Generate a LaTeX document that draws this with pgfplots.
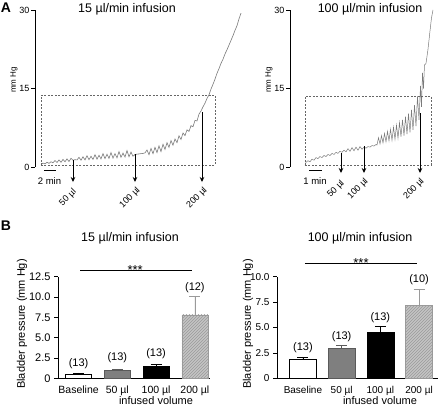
\documentclass[border=0pt]{standalone}
\usepackage{fontspec}
\setmainfont{Liberation Sans}
\usepackage{pgfplots}
\pgfplotsset{compat=1.18}
\usetikzlibrary{arrows.meta,patterns}
\definecolor{trace}{HTML}{7A7A7A}
\definecolor{bargray}{HTML}{7F7F7F}
\definecolor{baredge}{HTML}{5A5A5A}
\definecolor{barlight}{HTML}{C4C4C4}
\definecolor{hatch}{HTML}{9A9A9A}
\newcommand{\fs}[1]{\fontsize{#1}{#1}\selectfont}
\begin{document}
\begin{tikzpicture}
\useasboundingbox (0pt,0pt) rectangle (440pt,405pt);
\pgfplotsset{
  toppanel/.style={
    scale only axis, clip=false,
    axis x line=none, axis y line*=left, xtick=\empty,
    ymin=0, ymax=30, ytick={0,15,30},
    height=157pt, anchor=south west,
    tick align=outside, major tick length=4pt,
    y axis line style={line width=0.6pt},
    ytick style={black, line width=0.6pt},
    yticklabel style={font=\fs{9}, inner sep=1.5pt},
    /pgf/number format/assume math mode=true,
  },
  barpanel/.style={
    scale only axis, clip=false,
    axis x line*=bottom, axis y line*=left,
    ymin=0, height=101.6pt, anchor=south west,
    xtick={0,1,2,3}, xticklabels={Baseline,50 µl,100 µl,200 µl},
    xtick style={draw=none},
    tick align=outside, major tick length=4pt,
    axis line style={line width=0.6pt},
    ytick style={black, line width=0.6pt},
    /pgf/number format/assume math mode=true,
  },
  errs/.style={error bars/.cd, y dir=plus, y explicit,
    error bar style={line width=0.7pt, #1},
    error mark options={rotate=90, mark size=5.5pt, line width=0.7pt, #1}},
}
% ---------------- Panel A left ----------------
\begin{axis}[toppanel, at={(35pt,238pt)}, width=210pt, xmin=35, xmax=245]
\addplot[trace, line width=0.6pt] table {
x y
41 0.5
43 0.75
45 0.6
47 0.9
49 0.7
51 1.0
53 0.8
55 1.25
57 0.85
59 1.35
61 0.9
63 1.45
65 1.0
67 1.55
69 1.05
71 1.65
73 1.3
75 1.4
77 1.35
79 1.85
81 1.3
83 1.95
85 1.35
87 2.15
89 1.4
91 2.05
93 1.45
95 2.35
97 1.5
99 2.25
101 1.55
103 2.55
105 1.6
107 2.45
109 1.65
111 2.75
113 1.7
115 2.55
117 1.75
119 2.95
121 1.85
123 2.65
125 1.9
127 3.15
129 1.95
131 2.85
133 2.05
135 2.4
137 2.45
139 2.5
141 2.55
143 2.6
145 2.7
147 3.25
149 2.35
151 3.55
153 2.55
155 3.75
157 2.75
159 4.05
161 2.95
163 4.35
165 3.35
167 4.65
169 3.75
171 5.05
173 4.15
175 5.35
177 4.65
179 5.95
181 5.25
183 6.5
185 6.0
187 7.1
189 6.8
191 7.9
193 7.7
195 8.9
197 8.8
199 10.1
201 10.7
203 11.5
205 12.2
207 13.1
209 13.8
211 14.9
213 15.8
215 16.8
217 17.9
219 18.8
221 19.8
223 20.6
225 21.6
227 22.4
229 23.3
231 24.2
233 25.1
235 26.1
237 27.0
239 28.3
241 29.4
};
\draw[dash pattern=on 2pt off 1.5pt, line width=0.5pt, black!60] (axis cs:41,0.38) rectangle (axis cs:215,13.76);
\draw[line width=0.8pt] (axis cs:44,-0.57) -- (axis cs:56,-0.57);
\node[font=\fs{9.5}] at (axis cs:49.5,-2.6) {2 min};
\draw[line width=0.9pt,-{Stealth[length=5pt,width=4.5pt]}] (axis cs:73,1.34) -- (axis cs:73,-2.87);
\draw[line width=0.9pt,-{Stealth[length=5pt,width=4.5pt]}] (axis cs:135,2.48) -- (axis cs:135,-2.87);
\draw[line width=0.9pt,-{Stealth[length=5pt,width=4.5pt]}] (axis cs:202,10.5) -- (axis cs:202,-2.87);
\node[rotate=45, font=\fs{9}, inner sep=0pt] at (axis cs:68,-5.9) {50 µl};
\node[rotate=45, font=\fs{9}, inner sep=0pt] at (axis cs:130,-5.9) {100 µl};
\node[rotate=45, font=\fs{9}, inner sep=0pt] at (axis cs:197,-5.9) {200 µl};
\end{axis}
% ---------------- Panel A right ----------------
\begin{axis}[toppanel, at={(290pt,238pt)}, width=150pt, xmin=290, xmax=440]
\addplot[trace, line width=0.5pt] table {
x y
305 0.3
306 0.9
308 1.2
310 1.0
312 1.5
314 1.3
316 1.8
318 1.6
320 2.0
322 1.8
324 2.2
326 2.0
328 2.4
330 2.2
332 2.6
334 2.4
336 2.8
338 2.6
340 3.0
342 2.8
344 3.2
346 2.9
348 3.5
350 3.0
352 3.7
354 3.1
356 3.8
358 3.2
360 3.9
362 3.4
364 3.8
366 3.6
368 3.9
370 3.8
372 4.1
374 4.0
376 4.3
377 4.2
378.5 5.6
380 4.4
381.5 6.0
383 4.6
384.5 6.4
386 4.8
387.5 6.8
389 5.0
390.5 7.2
392 5.1
393.5 7.6
395 5.3
396.5 8.0
398 5.5
399.5 8.5
401 5.8
402.5 9.0
404 6.0
405.5 9.6
407 6.3
408.5 10.2
410 6.6
411.5 10.9
413 7.1
414.5 11.8
416 7.8
417.5 13.5
419 9.0
420.5 15.5
421.5 11.5
422.5 18.0
423.5 15.0
424.5 19.5
426 19.8
428 22.5
430 26.0
431.5 28.5
433 30.0
};
\draw[dash pattern=on 2pt off 1.5pt, line width=0.5pt, black!60] (axis cs:305,0.38) rectangle (axis cs:431,13.57);
\draw[line width=0.8pt] (axis cs:309,-0.57) -- (axis cs:322,-0.57);
\node[font=\fs{9.5}] at (axis cs:315,-2.6) {1 min};
\draw[line width=0.9pt,-{Stealth[length=5pt,width=4.5pt]}] (axis cs:341,2.67) -- (axis cs:341,-1.15);
\draw[line width=0.9pt,-{Stealth[length=5pt,width=4.5pt]}] (axis cs:364,4.0) -- (axis cs:364,-1.15);
\draw[line width=0.9pt,-{Stealth[length=5pt,width=4.5pt]}] (axis cs:420,10.3) -- (axis cs:420,-1.15);
\node[rotate=45, font=\fs{9}, inner sep=0pt] at (axis cs:336,-4.2) {50 µl};
\node[rotate=45, font=\fs{9}, inner sep=0pt] at (axis cs:358,-4.2) {100 µl};
\node[rotate=45, font=\fs{9}, inner sep=0pt] at (axis cs:414,-4.2) {200 µl};
\end{axis}
% ---------------- Panel B left ----------------
\begin{axis}[barpanel, at={(58pt,26.7pt)}, width=152pt, xmin=-0.53, xmax=3.39,
  ymax=12.5, ytick={0,2.5,5,7.5,10,12.5}, yticklabels={0,2.5,5.0,7.5,10.0,12.5},
  yticklabel style={font=\fs{11}}, xticklabel style={font=\fs{10.5}}]
\addplot[ybar, bar width=26pt, bar shift=0pt, fill=white, draw=black, line width=0.6pt, errs=black]
  coordinates {(0,0.55) +- (0,0.12)};
\addplot[ybar, bar width=26pt, bar shift=0pt, fill=bargray, draw=baredge, line width=0.6pt, errs=baredge]
  coordinates {(1,0.95) +- (0,0.14)};
\addplot[ybar, bar width=26pt, bar shift=0pt, fill=black, draw=black, line width=0.6pt, errs=black]
  coordinates {(2,1.5) +- (0,0.2)};
\addplot[ybar, bar width=26pt, bar shift=0pt, fill=barlight, draw=hatch, line width=0.6pt,
  postaction={pattern=north east lines, pattern color=hatch}, errs=hatch]
  coordinates {(3,7.8) +- (0,2.3)};
\draw[line width=0.8pt] (axis cs:0.04,13.25) -- (axis cs:2.93,13.25);
\node[font=\fs{13}, anchor=base, inner sep=0pt] at (axis cs:1.46,12.75) {***};
\node[font=\fs{11}] at (axis cs:0,1.78) {(13)};
\node[font=\fs{11}] at (axis cs:1,2.48) {(13)};
\node[font=\fs{11}] at (axis cs:2,3.02) {(13)};
\node[font=\fs{11}] at (axis cs:3,11.1) {(12)};
\end{axis}
% ---------------- Panel B right ----------------
\begin{axis}[barpanel, at={(277pt,26.7pt)}, width=161pt, xmin=-0.67, xmax=3.49,
  ymax=10, ytick={0,2.5,5,7.5,10}, yticklabels={0,2.5,5.0,7.5,10.0},
  yticklabel style={font=\fs{10}}, xticklabel style={font=\fs{10}}]
\addplot[ybar, bar width=27pt, bar shift=0pt, fill=white, draw=black, line width=0.6pt, errs=black]
  coordinates {(0,1.85) +- (0,0.25)};
\addplot[ybar, bar width=27pt, bar shift=0pt, fill=bargray, draw=baredge, line width=0.6pt, errs=baredge]
  coordinates {(1,2.95) +- (0,0.3)};
\addplot[ybar, bar width=27pt, bar shift=0pt, fill=black, draw=black, line width=0.6pt, errs=black]
  coordinates {(2,4.5) +- (0,0.6)};
\addplot[ybar, bar width=27pt, bar shift=0pt, fill=barlight, draw=hatch, line width=0.6pt,
  postaction={pattern=north east lines, pattern color=hatch}, errs=hatch]
  coordinates {(3,7.2) +- (0,1.6)};
\draw[line width=0.8pt] (axis cs:0.05,11.35) -- (axis cs:2.96,11.35);
\node[font=\fs{13}, anchor=base, inner sep=0pt] at (axis cs:1.5,10.95) {***};
\node[font=\fs{11}] at (axis cs:0,3.06) {(13)};
\node[font=\fs{11}] at (axis cs:1,4.1) {(13)};
\node[font=\fs{11}] at (axis cs:2,6.0) {(13)};
\node[font=\fs{11}] at (axis cs:3,9.7) {(10)};
\end{axis}
% ---------------- texts ----------------
\node[font=\bfseries\fs{14}] at (6pt,397pt) {A};
\node[font=\bfseries\fs{14}] at (6pt,179pt) {B};
\node[font=\fs{12.5}] at (127pt,396pt) {15 µl/min infusion};
\node[font=\fs{12.5}] at (370pt,396pt) {100 µl/min infusion};
\node[font=\fs{8}, rotate=90] at (14pt,325pt) {mm Hg};
\node[font=\fs{8}, rotate=90] at (269pt,325pt) {mm Hg};
\node[font=\fs{12.5}] at (130pt,167pt) {15 µl/min infusion};
\node[font=\fs{12.5}] at (360pt,167pt) {100 µl/min infusion};
\node[font=\fs{11}, rotate=90] at (22pt,81pt) {Bladder pressure (mm Hg)};
\node[font=\fs{11}, rotate=90] at (248pt,81pt) {Bladder pressure (mm Hg)};
\node[font=\fs{11}] at (156pt,4pt) {infused volume};
\node[font=\fs{11}] at (380pt,4pt) {infused volume};
\end{tikzpicture}
\end{document}
